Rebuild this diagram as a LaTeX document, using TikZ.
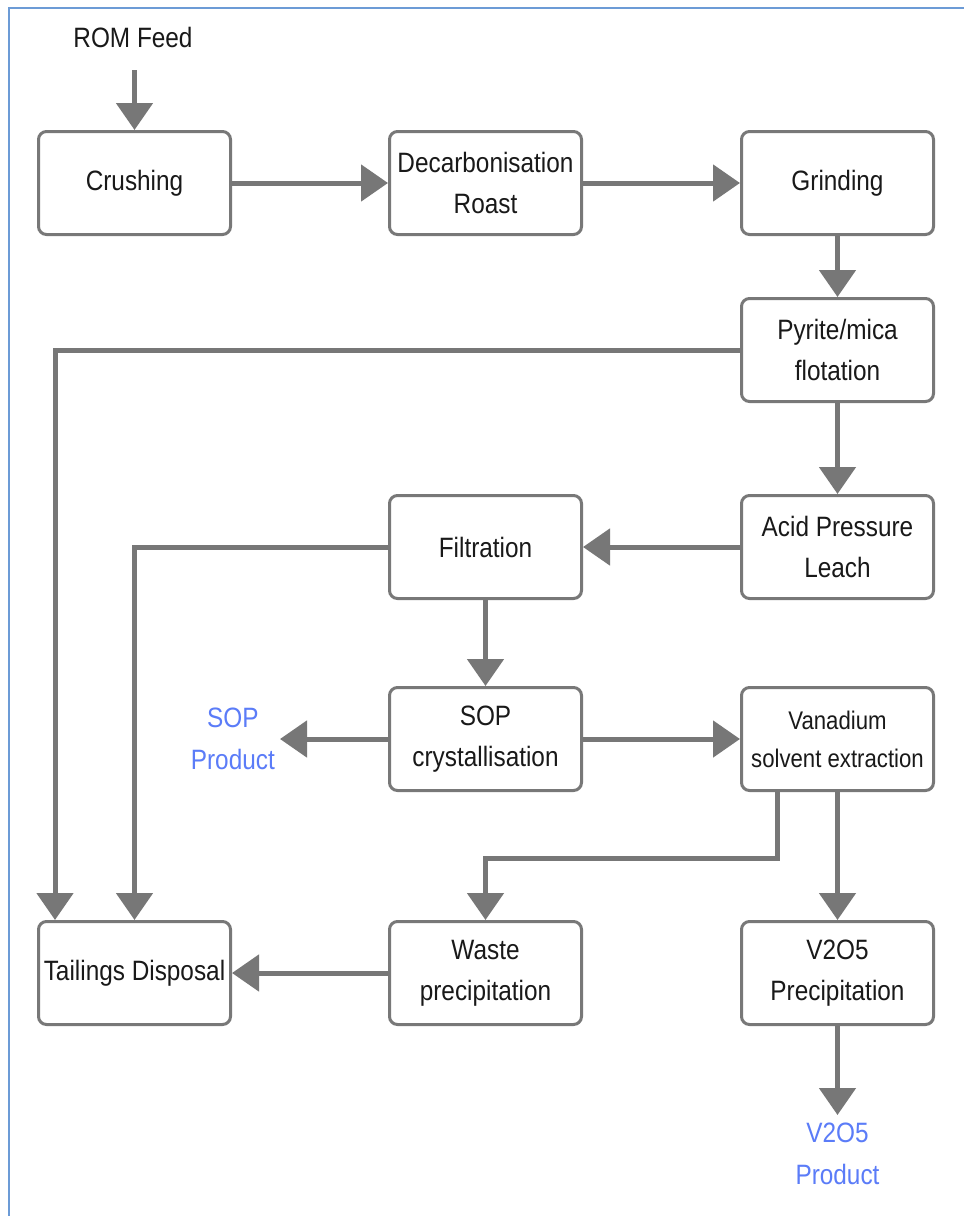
\documentclass[tikz,border=0pt]{standalone}
\usepackage{fontspec}
\setmainfont[FakeStretch=0.87]{Liberation Sans}
\usetikzlibrary{arrows.meta}
\definecolor{boxgray}{HTML}{787878}
\definecolor{arrgray}{HTML}{777777}
\definecolor{frameblue}{HTML}{6C9BD6}
\definecolor{prodblue}{HTML}{5B7CF8}
\tikzset{
  stepbox/.style={draw=boxgray, line width=3pt, rounded corners=8pt, fill=white,
    minimum width=192pt, minimum height=103pt, inner sep=0pt, align=center,
    font=\fontsize{28}{41}\selectfont, text=black!90},
  flow/.style={draw=arrgray, line width=5pt, -{Triangle[width=36pt,length=27pt]}},
  prodlabel/.style={align=center, text=prodblue, font=\fontsize{28}{42}\selectfont, inner sep=5pt},
}
\begin{document}
\begin{tikzpicture}[x=1pt,y=-1pt]
\useasboundingbox (0,0) rectangle (964,1216);
\fill[white] (0,0) rectangle (964,1216);
\draw[frameblue, line width=2pt] (9,1216) -- (9,8) -- (964,8);

\node[font=\fontsize{28}{34}\selectfont, inner sep=0pt, text=black!90] (rom) at (133,37) {ROM Feed};

\node[stepbox] (crush) at (134.5,183) {Crushing};
\node[stepbox] (decarb) at (485.5,183) {Decarbonisation\\Roast};
\node[stepbox] (grind) at (837.5,183) {Grinding};
\node[stepbox] (pyrite) at (837.5,350) {Pyrite/mica\\flotation};
\node[stepbox] (acid) at (837.5,547) {Acid Pressure\\Leach};
\node[stepbox] (filt) at (485.5,547) {Filtration};
\node[stepbox] (sop) at (485.5,739) {SOP\\crystallisation};
\node[stepbox, font=\fontsize{25.5}{38}\selectfont] (van) at (837.5,739) {Vanadium\\solvent extraction};
\node[stepbox] (tail) at (134.5,973) {Tailings Disposal};
\node[stepbox] (waste) at (485.5,973) {Waste\\precipitation};
\node[stepbox] (vprec) at (837.5,973) {V2O5\\Precipitation};

\node[prodlabel, anchor=east] (sopprod) at (280,739) {SOP\\Product};
\node[prodlabel, anchor=north, inner ysep=8pt] (vprod) at (837.5,1115) {V2O5\\Product};

\coordinate (romout) at (134.5,70);
\draw[flow] (romout) -- (crush.north);
\draw[flow] (crush) -- (decarb);
\draw[flow] (decarb) -- (grind);
\draw[flow] (grind) -- (pyrite);
\draw[flow] (pyrite) -- (acid);
\draw[flow] (acid) -- (filt);
\draw[flow] (filt) -- (sop);
\draw[flow] (sop) -- (van);
\draw[flow] (sop.west) -- (sopprod.east);
\draw[flow] (van) -- (vprec);
\draw[flow] (vprec) -- (vprod.north);
\draw[flow] (waste) -- (tail);
\draw[flow] (pyrite.west) -| ([xshift=-79.5pt]tail.north);
\draw[flow] (filt.west) -| (tail.north);
\draw[flow] ([xshift=-60.5pt]van.south) -- ++(0,66) -| (waste.north);
\end{tikzpicture}
\end{document}
